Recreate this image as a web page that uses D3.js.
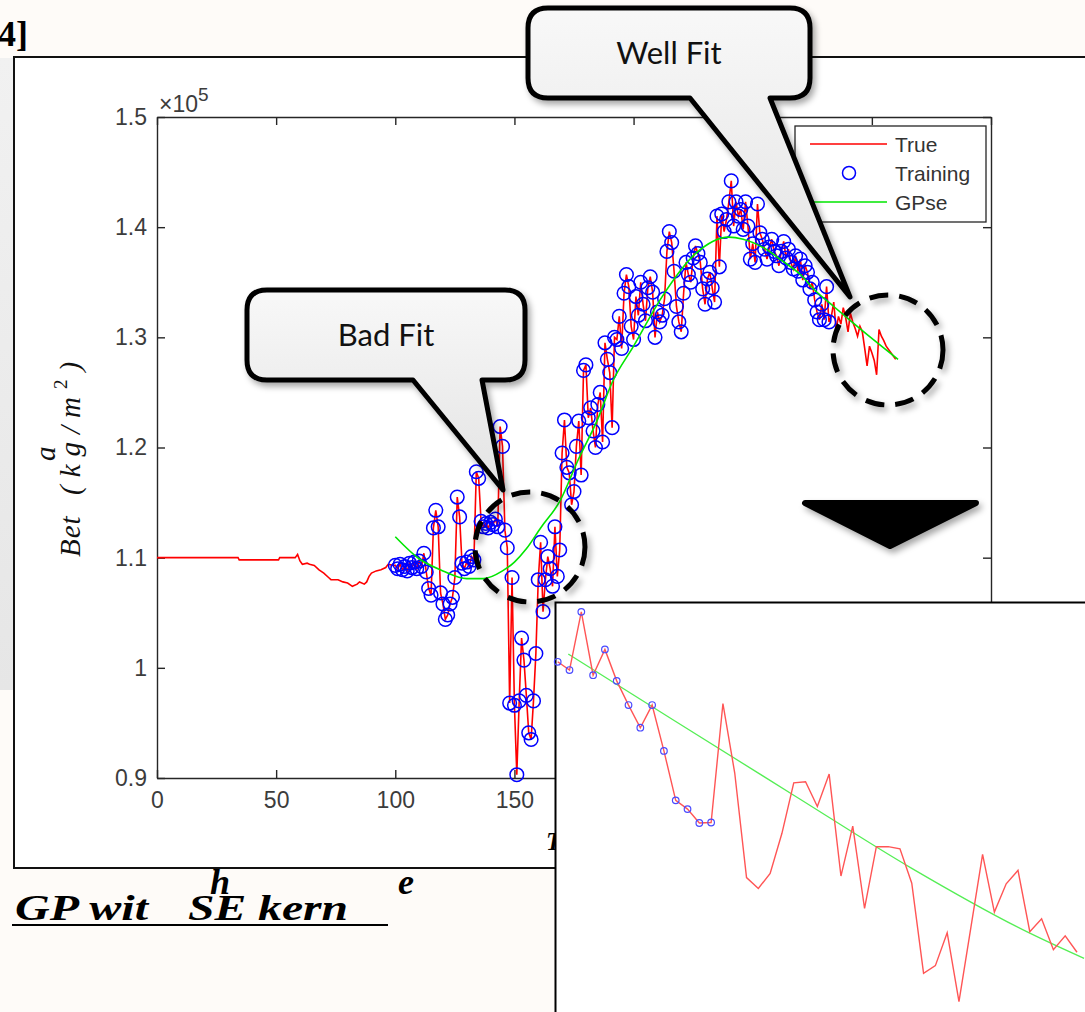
<!DOCTYPE html>
<html>
<head>
<meta charset="utf-8">
<script src="https://cdn.jsdelivr.net/npm/d3@7"></script>
<style>
  html, body { margin: 0; padding: 0; background: #fefbf8; }
  svg { display: block; }
</style>
</head>
<body>
<svg width="1085" height="1012"></svg>
<script>
d3.select(window).on('load', init);
var svg, defs;

// ---- data (Bet values are in units of 1e5 kg/m^2) ----
// slow part of the true curve, before the training window
var flatX = [0, 34, 34.5, 51, 51.5, 58, 59, 60, 61, 63, 64, 66, 68, 70, 72, 73, 76, 78, 80, 82, 84, 85, 87, 88, 89, 90, 92, 94, 96, 97, 99];
var flatY = [1.100, 1.100, 1.098, 1.098, 1.100, 1.100, 1.103, 1.097, 1.094, 1.095, 1.094, 1.093, 1.089, 1.086, 1.082, 1.080,
             1.080, 1.078, 1.077, 1.074, 1.076, 1.078, 1.076, 1.078, 1.083, 1.086, 1.088, 1.089, 1.091, 1.094, 1.093];

// true curve from t = 100 to t = 310, one value per step
var trueStart = 100;
var trueY = [
  1.093, 1.090, 1.094, 1.089, 1.092, 1.088, 1.095, 1.091, 1.096, 1.090,
  1.097, 1.092, 1.104, 1.087, 1.072, 1.066, 1.127, 1.143, 1.128, 1.068,
  1.058, 1.044, 1.048, 1.058, 1.064, 1.082, 1.155, 1.137, 1.095, 1.090,
  1.096, 1.092, 1.101, 1.098, 1.178, 1.172, 1.133, 1.128, 1.131, 1.127,
  1.132, 1.130, 1.135, 1.128, 1.219, 1.201, 1.125, 1.109, 0.968, 1.082,
  0.966, 0.903, 0.970, 1.027, 1.007, 0.975, 0.941, 0.935, 0.970, 1.013,
  1.080, 1.114, 1.051, 1.080, 1.101, 1.090, 1.074, 1.128, 1.083, 1.107,
  1.195, 1.225, 1.182, 1.177, 1.148, 1.160, 1.201, 1.224, 1.175, 1.270,
  1.275, 1.227, 1.236, 1.215, 1.200, 1.239, 1.250, 1.205, 1.295, 1.280,
  1.268, 1.218, 1.300, 1.298, 1.319, 1.290, 1.340, 1.357, 1.346, 1.310,
  1.298, 1.337, 1.320, 1.350, 1.330, 1.315, 1.345, 1.355, 1.341, 1.300,
  1.323, 1.314, 1.320, 1.335, 1.378, 1.396, 1.386, 1.360, 1.328, 1.314,
  1.305, 1.340, 1.368, 1.357, 1.350, 1.372, 1.383, 1.376, 1.368, 1.344,
  1.330, 1.353, 1.359, 1.345, 1.332, 1.410, 1.364, 1.412, 1.396, 1.407,
  1.423, 1.442, 1.401, 1.423, 1.410, 1.416, 1.398, 1.423, 1.401, 1.371,
  1.385, 1.368, 1.421, 1.395, 1.389, 1.380, 1.371, 1.382, 1.389, 1.378,
  1.374, 1.365, 1.378, 1.387, 1.372, 1.380, 1.368, 1.362, 1.374, 1.360,
  1.371, 1.352, 1.365, 1.359, 1.344, 1.350, 1.334, 1.323, 1.316, 1.330,
  1.316, 1.346, 1.314, 1.319, 1.332, 1.307, 1.319, 1.312, 1.327, 1.318,
  1.305, 1.322, 1.314, 1.308, 1.301, 1.310, 1.305, 1.290, 1.274, 1.292,
  1.286, 1.279, 1.266, 1.307, 1.301, 1.297, 1.292, 1.289, 1.286, 1.283,
  1.280
];
// training window (points of the true curve shown as circles)
var trainFrom = 100, trainTo = 282;

// GP (squared exponential) mean
var gpX = [100, 110, 120, 130, 137, 145, 150, 155, 161, 169, 177, 185, 191, 200, 212, 226, 240, 246, 257, 262, 270, 276, 284, 290, 300, 311];
var gpY = [1.119, 1.099, 1.088, 1.081, 1.081, 1.088, 1.096, 1.108, 1.127, 1.151, 1.190, 1.226, 1.259, 1.292, 1.337, 1.376,
           1.391, 1.389, 1.378, 1.370, 1.357, 1.343, 1.328, 1.317, 1.299, 1.280];

// zoomed inset of the end of the series
var insetTrue = [1.3330, 1.3314, 1.3427, 1.3304, 1.3354, 1.3293, 1.3246, 1.3202, 1.3246, 1.3157,
                 1.3061, 1.3044, 1.3017, 1.3018, 1.3249, 1.3114, 1.2911, 1.2890, 1.2919, 1.2997,
                 1.3095, 1.3097, 1.3049, 1.3112, 1.2914, 1.3011, 1.2851, 1.2971, 1.2971, 1.2967,
                 1.2900, 1.2725, 1.2740, 1.2804, 1.2670, 1.2813, 1.2956, 1.2844, 1.2899, 1.2925,
                 1.2806, 1.2831, 1.2771, 1.2798, 1.2766];
var insetTrainCount = 14;
var insetGpX = [0.9, 10, 20, 30, 40, 44.6];
var insetGpY = [1.3345, 1.3214, 1.3071, 1.2929, 1.2803, 1.2754];

var xTicks = [0, 50, 100, 150, 200, 250, 300, 350];
var yTicks = [0.9, 1.0, 1.1, 1.2, 1.3, 1.4, 1.5];
var yTickLabels = ['0.9', '1', '1.1', '1.2', '1.3', '1.4', '1.5'];
var legendLabels = ['True', 'Training', 'GPse'];

var red = '#ff0000', blue = '#0000ff', green = '#00e600';

function init() {
    svg = d3.select('svg');
    defs = svg.append('defs');

    var f = defs.append('filter').attr('id', 'shadow')
        .attr('x', '-20%').attr('y', '-20%').attr('width', '150%').attr('height', '150%');
    f.append('feDropShadow').attr('dx', 3).attr('dy', 4).attr('stdDeviation', 3)
        .attr('flood-color', '#000').attr('flood-opacity', 0.35);

    var lg = defs.append('linearGradient').attr('id', 'bubble')
        .attr('x1', 0).attr('y1', 0).attr('x2', 0).attr('y2', 1);
    lg.append('stop').attr('offset', '0%').attr('stop-color', '#f8f8f8');
    lg.append('stop').attr('offset', '100%').attr('stop-color', '#e3e3e3');

    var sg = defs.append('linearGradient').attr('id', 'strip')
        .attr('x1', 0).attr('y1', 0).attr('x2', 0).attr('y2', 1);
    sg.append('stop').attr('offset', '0%').attr('stop-color', '#f1f1f1');
    sg.append('stop').attr('offset', '100%').attr('stop-color', '#e6e6e6');

    // page bits
    svg.append('rect').attr('x', 0).attr('y', 58).attr('width', 14).attr('height', 632)
        .attr('fill', 'url(#strip)');
    svg.append('text').attr('x', 28).attr('y', 46)
        .attr('text-anchor', 'end')
        .style('font-family', '"Liberation Serif", serif').style('font-weight', 'bold')
        .style('font-size', '36px').text('[4]');
    svg.append('rect').attr('x', 14).attr('y', 57).attr('width', 1200).attr('height', 811)
        .attr('fill', '#fff').attr('stroke', '#111').attr('stroke-width', 2);

    drawMain();
    drawCallouts();
    drawInset();
    drawCaption();
}

//---------------------------------------------------------------------
function drawMain() {
    var x = d3.scaleLinear().domain([0, 350]).range([157, 991]);
    var y = d3.scaleLinear().domain([0.9, 1.5]).range([778, 117]);

    var axisColor = '#262626';
    function styleAxis(g) {
        g.selectAll('path, line').attr('stroke', axisColor).attr('stroke-width', 1.4);
        g.selectAll('text').attr('fill', '#3c3c3c')
            .style('font-family', '"Liberation Sans", Arial, sans-serif').style('font-size', '23px');
    }

    svg.append('g').attr('transform', 'translate(0,778)')
        .call(d3.axisBottom(x).tickValues(xTicks).tickSize(-8).tickSizeOuter(0).tickPadding(14))
        .call(styleAxis);
    svg.append('g').attr('transform', 'translate(0,117)')
        .call(d3.axisTop(x).tickValues(xTicks).tickSize(-8).tickSizeOuter(0).tickFormat(''))
        .call(styleAxis);
    svg.append('g').attr('transform', 'translate(157,0)')
        .call(d3.axisLeft(y).tickValues(yTicks).tickSize(-8).tickSizeOuter(0).tickPadding(10)
            .tickFormat(function(d, i) { return yTickLabels[i]; }))
        .call(styleAxis);
    svg.append('g').attr('transform', 'translate(991,0)')
        .call(d3.axisRight(y).tickValues(yTicks).tickSize(-8).tickSizeOuter(0).tickFormat(''))
        .call(styleAxis);

    // x10^5 multiplier
    var m = svg.append('text').attr('x', 159).attr('y', 112).attr('fill', '#3c3c3c')
        .style('font-family', '"Liberation Sans", Arial, sans-serif').style('font-size', '23px');
    m.append('tspan').text('\u00d710');
    m.append('tspan').attr('dy', -11).style('font-size', '19px').text('5');

    // y label (math-style spacing, hence the letter-spacing)
    var yl = svg.append('g').attr('transform', 'translate(80,557) rotate(-90)')
        .style('font-family', '"Liberation Serif", serif').style('font-style', 'italic')
        .style('font-size', '29px').attr('fill', '#111');
    yl.append('text').attr('x', 0).attr('y', 0).style('letter-spacing', '1px').text('Bet');
    var yt = yl.append('text').attr('x', 62).attr('y', 0).style('letter-spacing', '8px');
    yt.append('tspan').text('(kg/m');
    yt.append('tspan').attr('dy', -13).style('font-size', '19px').style('font-style', 'normal').text('2');
    yt.append('tspan').attr('dy', 13).text(')');
    yl.append('text').attr('x', 96).attr('y', -25).text('a');

    // x label (mostly hidden under the inset)
    svg.append('text').attr('x', 546).attr('y', 850)
        .style('font-family', '"Liberation Serif", serif').style('font-style', 'italic')
        .style('font-weight', 'bold').style('font-size', '25px').text('Time (s)');

    // series
    var pts = [];
    for (var i = 0; i < flatX.length; i++) pts.push({t: flatX[i], v: flatY[i]});
    for (var j = 0; j < trueY.length; j++) pts.push({t: trueStart + j, v: trueY[j]});

    var line = d3.line().x(function(d) { return x(d.t); }).y(function(d) { return y(d.v); });

    svg.append('path').datum(pts).attr('d', line)
        .attr('fill', 'none').attr('stroke', red).attr('stroke-width', 1.6);

    var train = pts.filter(function(d) { return d.t >= trainFrom && d.t <= trainTo; });
    svg.append('g').selectAll('circle').data(train).enter().append('circle')
        .attr('cx', function(d) { return x(d.t); })
        .attr('cy', function(d) { return y(d.v); })
        .attr('r', 6.8).attr('fill', 'none').attr('stroke', blue).attr('stroke-width', 1.5);

    var gp = gpX.map(function(t, k) { return {t: t, v: gpY[k]}; });
    svg.append('path').datum(gp).attr('d', line.curve(d3.curveMonotoneX))
        .attr('fill', 'none').attr('stroke', green).attr('stroke-width', 1.6);

    // legend
    var leg = svg.append('g');
    leg.append('rect').attr('x', 795).attr('y', 126).attr('width', 191).attr('height', 96)
        .attr('fill', '#fff').attr('stroke', axisColor).attr('stroke-width', 1.3);
    var rows = [144, 173, 202];
    legendLabels.forEach(function(lbl, k) {
        if (k == 1) {
            leg.append('circle').attr('cx', 849).attr('cy', rows[k]).attr('r', 6.5)
                .attr('fill', 'none').attr('stroke', blue).attr('stroke-width', 1.5);
        } else {
            leg.append('line').attr('x1', 810).attr('x2', 887).attr('y1', rows[k]).attr('y2', rows[k])
                .attr('stroke', k == 0 ? red : green).attr('stroke-width', 1.6);
        }
        leg.append('text').attr('x', 895).attr('y', rows[k] + 7.5).attr('fill', '#333')
            .style('font-family', '"Liberation Sans", Arial, sans-serif').style('font-size', '21px')
            .text(lbl);
    });
}

//---------------------------------------------------------------------
// rounded box with a wedge pointing to (tx, ty) from its bottom edge
function bubblePath(x0, y0, x1, y1, r, bx0, bx1, tx, ty) {
    return 'M' + (x0 + r) + ',' + y0 +
        ' H' + (x1 - r) + ' Q' + x1 + ',' + y0 + ' ' + x1 + ',' + (y0 + r) +
        ' V' + (y1 - r) + ' Q' + x1 + ',' + y1 + ' ' + (x1 - r) + ',' + y1 +
        ' H' + bx1 + ' L' + tx + ',' + ty + ' L' + bx0 + ',' + y1 +
        ' H' + (x0 + r) + ' Q' + x0 + ',' + y1 + ' ' + x0 + ',' + (y1 - r) +
        ' V' + (y0 + r) + ' Q' + x0 + ',' + y0 + ' ' + (x0 + r) + ',' + y0 + ' Z';
}

function drawCallouts() {
    var bubbles = [
        {box: [247, 290, 525, 380], base: [413, 482], tip: [503, 490], label: 'Bad Fit'},
        {box: [528, 8, 810, 98], base: [690, 770], tip: [850, 297], label: 'Well Fit'}
    ];
    bubbles.forEach(function(b) {
        svg.append('path')
            .attr('d', bubblePath(b.box[0], b.box[1], b.box[2], b.box[3], 20, b.base[0], b.base[1], b.tip[0], b.tip[1]))
            .attr('fill', 'url(#bubble)').attr('stroke', '#000').attr('stroke-width', 5)
            .attr('stroke-linejoin', 'round').attr('filter', 'url(#shadow)');
        svg.append('text')
            .attr('x', (b.box[0] + b.box[2]) / 2).attr('y', (b.box[1] + b.box[3]) / 2 + 11)
            .attr('text-anchor', 'middle').attr('fill', '#111')
            .style('font-family', 'Lato, "Open Sans", sans-serif').style('font-size', '31px')
            .text(b.label);
    });

    var rings = [[530, 547, 55], [888, 350, 55]];
    svg.selectAll('.ring').data(rings).enter().append('circle').attr('class', 'ring')
        .attr('cx', function(d) { return d[0]; }).attr('cy', function(d) { return d[1]; })
        .attr('r', function(d) { return d[2]; })
        .attr('fill', 'none').attr('stroke', '#000').attr('stroke-width', 5)
        .attr('stroke-dasharray', '19 11').attr('filter', 'url(#shadow)');

    svg.append('path').attr('d', 'M805,503 L976,503 L890,546 Z')
        .attr('fill', '#000').attr('stroke', '#000').attr('stroke-width', 6)
        .attr('stroke-linejoin', 'round').attr('filter', 'url(#shadow)');
}

//---------------------------------------------------------------------
function drawInset() {
    var x = d3.scaleLinear().domain([1, 45]).range([557.7, 1077]);
    var y = d3.scaleLinear().domain([1.265, 1.345]).range([1012, 600]);

    svg.append('rect').attr('x', 555.5).attr('y', 602.5).attr('width', 600).attr('height', 500)
        .attr('fill', '#fff').attr('stroke', '#000').attr('stroke-width', 2);

    var pts = insetTrue.map(function(v, i) { return {i: i + 1, v: v}; });
    var line = d3.line().x(function(d) { return x(d.i); }).y(function(d) { return y(d.v); });

    var gp = insetGpX.map(function(t, k) { return {i: t + 1, v: insetGpY[k]}; });
    svg.append('path').datum(gp).attr('d', d3.line().curve(d3.curveMonotoneX)
            .x(function(d) { return x(d.i); }).y(function(d) { return y(d.v); }))
        .attr('fill', 'none').attr('stroke', '#55ee55').attr('stroke-width', 1.3);

    svg.append('path').datum(pts).attr('d', line)
        .attr('fill', 'none').attr('stroke', '#ff5555').attr('stroke-width', 1.4);

    svg.append('g').selectAll('circle').data(pts.slice(0, insetTrainCount)).enter().append('circle')
        .attr('cx', function(d) { return x(d.i); })
        .attr('cy', function(d) { return y(d.v); })
        .attr('r', 3.3).attr('fill', 'none').attr('stroke', '#4a4aff').attr('stroke-width', 1.2);
}

//---------------------------------------------------------------------
function drawCaption() {
    var cap = svg.append('g')
        .style('font-family', '"Liberation Serif", serif').style('font-style', 'italic')
        .style('font-weight', 'bold').style('font-size', '36px').attr('fill', '#000');
    cap.append('text').attr('x', 15).attr('y', 920).attr('textLength', 133)
        .attr('lengthAdjust', 'spacingAndGlyphs').text('GP wit');
    cap.append('text').attr('x', 188).attr('y', 920).attr('textLength', 160)
        .attr('lengthAdjust', 'spacingAndGlyphs').text('SE kern');
    cap.append('text').attr('x', 210).attr('y', 894).text('h');
    cap.append('text').attr('x', 398).attr('y', 894).text('e');
    svg.append('line').attr('x1', 12).attr('x2', 388).attr('y1', 925).attr('y2', 925)
        .attr('stroke', '#000').attr('stroke-width', 2);
}
</script>
</body>
</html>
